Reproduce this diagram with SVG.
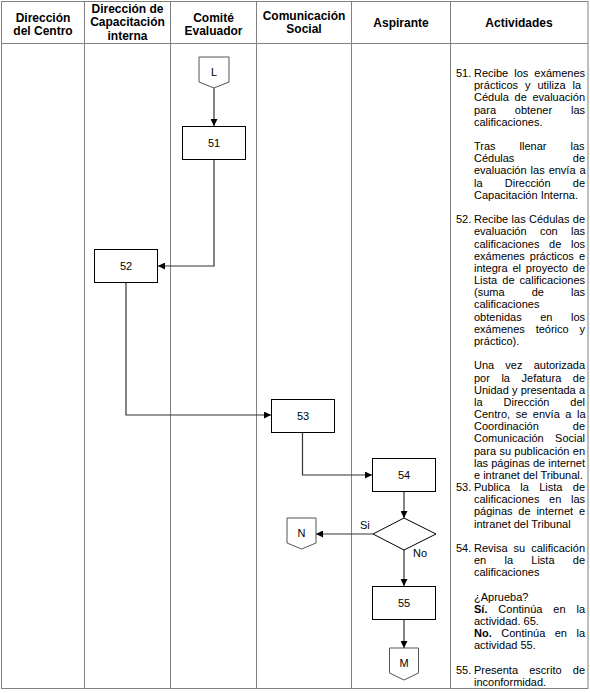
<svg xmlns="http://www.w3.org/2000/svg" width="590" height="693" viewBox="0 0 590 693">
<style>
  .grid{stroke:#808080;stroke-width:1;fill:none}
  .hd{font-family:"Liberation Sans",Arial,sans-serif;font-size:12px;font-weight:bold;fill:#000;text-anchor:middle}
  .t{font-family:"Liberation Sans",Arial,sans-serif;font-size:11px;fill:#000}
  .c{text-anchor:middle}
  .box{fill:#fff;stroke:#000;stroke-width:1}
  .off{fill:#fff;stroke:#555;stroke-width:1}
  .cn{fill:none;stroke:#333;stroke-width:1.2;marker-end:url(#ah)}
  .b{font-weight:bold}
</style>
<defs>
  <marker id="ah" viewBox="0 0 10 10" refX="10" refY="5" markerWidth="8" markerHeight="7" markerUnits="userSpaceOnUse" orient="auto">
    <path d="M0,0 L10,5 L0,10 z" fill="#000"/>
  </marker>
</defs>
<rect width="590" height="693" fill="#fff"/>
<g id="table">
  <rect class="grid" x="1.5" y="1.5" width="586.5" height="687"/>
  <line class="grid" x1="1.5" y1="43.5" x2="588" y2="43.5"/>
  <line class="grid" x1="84.5" y1="1.5" x2="84.5" y2="688.5"/>
  <line class="grid" x1="170.5" y1="1.5" x2="170.5" y2="688.5"/>
  <line class="grid" x1="256.5" y1="1.5" x2="256.5" y2="688.5"/>
  <line class="grid" x1="351.5" y1="1.5" x2="351.5" y2="688.5"/>
  <line class="grid" x1="450.5" y1="1.5" x2="450.5" y2="688.5"/>
  <text class="hd" x="43" y="21.5">Dirección</text>
  <text class="hd" x="43" y="35">del Centro</text>
  <text class="hd" x="127.5" y="12.5">Dirección de</text>
  <text class="hd" x="127.5" y="26">Capacitación</text>
  <text class="hd" x="127.5" y="39.5">interna</text>
  <text class="hd" x="213.5" y="21.5">Comité</text>
  <text class="hd" x="213.5" y="35">Evaluador</text>
  <text class="hd" x="304" y="19.5">Comunicación</text>
  <text class="hd" x="304" y="33">Social</text>
  <text class="hd" x="401" y="26.5">Aspirante</text>
  <text class="hd" x="519" y="26.5">Actividades</text>
</g>
<g id="connectors">
  <path class="cn" d="M214,88 V126"/>
  <path class="cn" d="M214,160 V266 H158"/>
  <path class="cn" d="M126,282 V415 H271"/>
  <path class="cn" d="M302.5,432 V475 H372"/>
  <path class="cn" d="M404,491 V518"/>
  <path class="cn" d="M373,534 H316"/>
  <path class="cn" d="M404,550 V586"/>
  <path class="cn" d="M404,620 V648"/>
  <text class="t" x="360" y="529">Si</text>
  <text class="t" x="413" y="557">No</text>
</g>
<g id="L">
  <polygon class="off" points="199,57 229,57 229,82 214,88 199,82"/>
  <text class="t c" x="214" y="76">L</text>
</g>
<g id="n51">
  <rect class="box" x="182.5" y="126.5" width="63" height="33"/>
  <text class="t c" x="214" y="147">51</text>
</g>
<g id="n52">
  <rect class="box" x="94.5" y="249.5" width="63" height="33"/>
  <text class="t c" x="126" y="270">52</text>
</g>
<g id="n53">
  <rect class="box" x="271.5" y="399.5" width="63" height="33"/>
  <text class="t c" x="303" y="420">53</text>
</g>
<g id="n54">
  <rect class="box" x="372.5" y="458.5" width="63" height="33"/>
  <text class="t c" x="404" y="479">54</text>
</g>
<g id="d54">
  <polygon class="box" points="404,518 436,534 404,550 373,534"/>
</g>
<g id="N">
  <polygon class="off" points="287,518 316,518 316,543 301.5,549 287,543"/>
  <text class="t c" x="301.5" y="537">N</text>
</g>
<g id="n55">
  <rect class="box" x="372.5" y="586.5" width="63" height="33"/>
  <text class="t c" x="404" y="607">55</text>
</g>
<g id="M">
  <polygon class="off" points="389.5,648 418.5,648 418.5,673 404,680 389.5,673"/>
  <text class="t c" x="404" y="667">M</text>
</g>
<g id="activities">
  <text class="t" x="456" y="77">51.</text>
  <text class="t" x="474" y="77" word-spacing="2.93">Recibe los exámenes</text>
  <text class="t" x="474" y="89.18" word-spacing="3.91">prácticos y utiliza la</text>
  <text class="t" x="474" y="101.36" word-spacing="2.61">Cédula de evaluación</text>
  <text class="t" x="474" y="113.54" word-spacing="15.76">para obtener las</text>
  <text class="t" x="474" y="125.72">calificaciones.</text>
  <text class="t" x="474" y="150.08" word-spacing="20.97">Tras llenar las</text>
  <text class="t" x="474" y="162.26" word-spacing="55.36">Cédulas de</text>
  <text class="t" x="474" y="174.44" word-spacing="0.93">evaluación las envía a</text>
  <text class="t" x="474" y="186.62" word-spacing="19.13">la Dirección de</text>
  <text class="t" x="474" y="198.8">Capacitación Interna.</text>
  <text class="t" x="456" y="223.16">52.</text>
  <text class="t" x="474" y="223.16" word-spacing="0.32">Recibe las Cédulas de</text>
  <text class="t" x="474" y="235.34" word-spacing="10.26">evaluación con las</text>
  <text class="t" x="474" y="247.52" word-spacing="6.6">calificaciones de los</text>
  <text class="t" x="474" y="259.7" word-spacing="2">exámenes prácticos e</text>
  <text class="t" x="474" y="271.88" word-spacing="1.74">integra el proyecto de</text>
  <text class="t" x="474" y="284.06" word-spacing="2">Lista de calificaciones</text>
  <text class="t" x="474" y="296.24" word-spacing="24.02">(suma de las</text>
  <text class="t" x="474" y="308.42">calificaciones</text>
  <text class="t" x="474" y="320.6" word-spacing="15.45">obtenidas en los</text>
  <text class="t" x="474" y="332.78" word-spacing="7.82">exámenes teórico y</text>
  <text class="t" x="474" y="344.96">práctico).</text>
  <text class="t" x="474" y="369.32" word-spacing="8.12">Una vez autorizada</text>
  <text class="t" x="474" y="381.5" word-spacing="8.47">por la Jefatura de</text>
  <text class="t" x="474" y="393.68" word-spacing="0.11">Unidad y presentada a</text>
  <text class="t" x="474" y="405.86" word-spacing="17.91">la Dirección del</text>
  <text class="t" x="474" y="418.04" word-spacing="2.53">Centro, se envía a la</text>
  <text class="t" x="474" y="430.22" word-spacing="30.91">Coordinación de</text>
  <text class="t" x="474" y="442.4" word-spacing="8.3">Comunicación Social</text>
  <text class="t" x="474" y="454.58" word-spacing="0.31">para su publicación en</text>
  <text class="t" x="474" y="466.76" word-spacing="0.11">las páginas de internet</text>
  <text class="t" x="474" y="478.94">e intranet del Tribunal.</text>
  <text class="t" x="456" y="491.12">53.</text>
  <text class="t" x="474" y="491.12" word-spacing="7.24">Publica la Lista de</text>
  <text class="t" x="474" y="503.3" word-spacing="6.6">calificaciones en las</text>
  <text class="t" x="474" y="515.48" word-spacing="2.76">páginas de internet e</text>
  <text class="t" x="474" y="527.66">intranet del Tribunal</text>
  <text class="t" x="456" y="552.02">54.</text>
  <text class="t" x="474" y="552.02" word-spacing="2.93">Revisa su calificación</text>
  <text class="t" x="474" y="564.2" word-spacing="15.19">en la Lista de</text>
  <text class="t" x="474" y="576.38">calificaciones</text>
  <text class="t" x="474" y="600.74">¿Aprueba?</text>
  <text class="t" x="474" y="612.92" word-spacing="7.85"><tspan class="b">Sí.</tspan> Continúa en la</text>
  <text class="t" x="474" y="625.1">actividad. 65.</text>
  <text class="t" x="474" y="637.28" word-spacing="6.43"><tspan class="b">No.</tspan> Continúa en la</text>
  <text class="t" x="474" y="649.46">actividad 55.</text>
  <text class="t" x="456" y="673.82">55.</text>
  <text class="t" x="474" y="673.82" word-spacing="8.12">Presenta escrito de</text>
  <text class="t" x="474" y="686">inconformidad.</text>
</g>
</svg>
